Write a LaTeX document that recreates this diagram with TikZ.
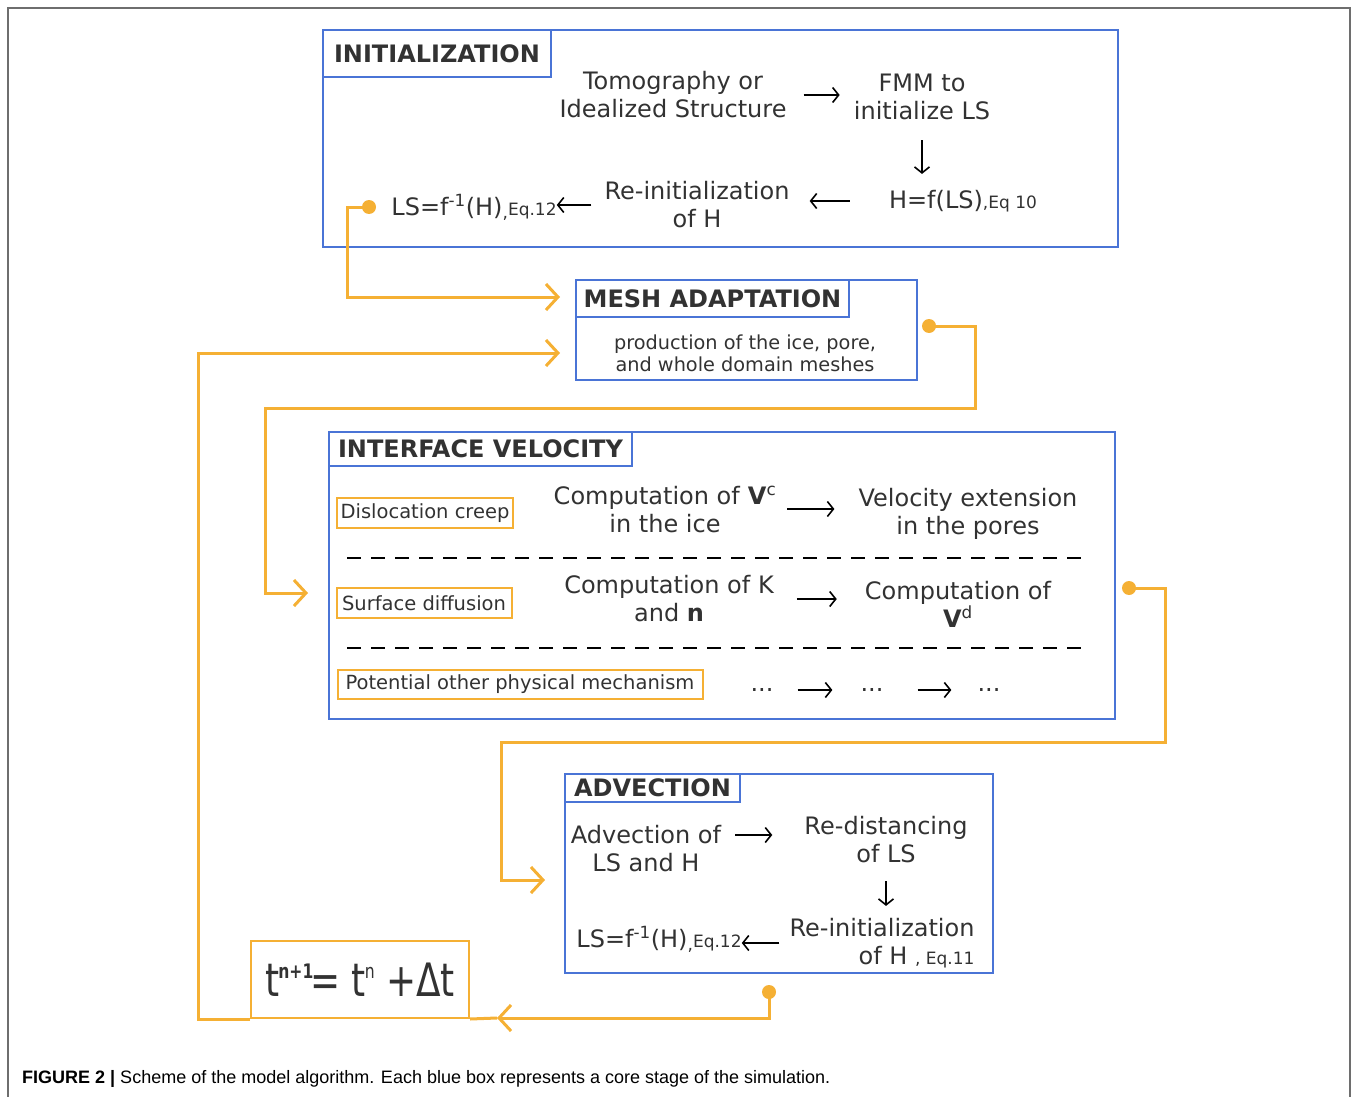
\documentclass[tikz,border=0pt]{standalone}
\usepackage{fontspec}
\setmainfont{DejaVu Sans}
\newfontfamily\capfont{Liberation Sans}
\usetikzlibrary{arrows.meta}

\definecolor{boxblue}{RGB}{74,116,214}
\definecolor{flowor}{RGB}{245,176,52}
\definecolor{ink}{RGB}{50,50,50}
\definecolor{framegray}{RGB}{110,110,110}
\newcommand{\bodysize}{\fontsize{24}{28}\selectfont}
\newcommand{\eqsize}{\fontsize{17}{20}\selectfont}
\newcommand{\headsize}{\fontsize{24}{28}\selectfont\bfseries}
\newcommand{\tagsize}{\fontsize{19.5}{22}\selectfont}
\newcommand{\tsup}[1]{\raisebox{18pt}{\fontsize{20}{20}\selectfont #1}}

\begin{document}
\begin{tikzpicture}[x=1pt,y=-1pt]
\tikzstyle{every node}+=[inner sep=0pt, text=ink]
\tikzstyle{stage}=[draw=boxblue, line width=2pt, anchor=north west]
\tikzstyle{stagehead}=[draw=boxblue, line width=2pt, font=\headsize, anchor=north west]
\tikzstyle{txt}=[font=\bodysize, align=center]
\tikzstyle{tag}=[draw=flowor, line width=2pt, font=\tagsize]
\tikzstyle{flow}=[draw=flowor, line width=3pt]
\tikzstyle{flowarrow}=[flow, -{Straight Barb[length=12pt,width=26pt]}]
\tikzstyle{link}=[line width=1.6pt, -{Straight Barb[length=6pt,width=15pt]}]
\tikzstyle{joint}=[circle, fill=flowor, minimum size=14pt]
\tikzstyle{rowline}=[line width=1.5pt, dash pattern=on 14pt off 10pt]
\useasboundingbox (0,0) rectangle (1358,1097);
\draw[framegray, line width=2pt] (8,1097) -- (8,8) -- (1350,8) -- (1350,1097);

% initialization
\node[stage, minimum width=795pt, minimum height=217pt] (init) at (322,29) {};
\node[stagehead, minimum width=228pt, minimum height=47pt] (inithead) at (322,29) {INITIALIZATION};
\node[txt] (tomo) at (673,95) {Tomography or\\Idealized Structure};
\node[txt] (fmm) at (922,97) {FMM to\\initialize LS};
\node[txt] (hfun) at (963,201) {H=f(LS){\eqsize,Eq 10}};
\node[txt] (reinit) at (697,205) {Re-initialization\\of H};
\node[txt] (lsinv) at (474,207) {LS=f\textsuperscript{-1}(H){\eqsize\raisebox{-3pt}{,}Eq.12}};
\draw[link, shorten <=17pt, shorten >=14pt] (tomo.east) -- (tomo.east -| fmm.west);
\draw[link, shorten <=20pt, shorten >=16pt] (fmm.south) -- (fmm.south |- hfun.north);
\draw[link, shorten <=39pt, shorten >=20pt] (hfun.west) -- (hfun.west -| reinit.east);
\draw[link, shorten <=13pt] (reinit.west) -- (reinit.west -| lsinv.east);

% mesh adaptation
\node[stage, minimum width=341pt, minimum height=100pt] (mesh) at (575,279) {};
\node[stagehead, minimum width=273pt, minimum height=37pt] (meshhead) at (575,279) {MESH ADAPTATION};
\node[font=\fontsize{19.3}{22}\selectfont, align=center] (meshtxt) at (745,353) {production of the ice, pore,\\and whole domain meshes};

% interface velocity
\node[stage, minimum width=786pt, minimum height=287pt] (iv) at (328,431) {};
\node[stagehead, minimum width=303pt, minimum height=34pt] (ivhead) at (328,431) {INTERFACE VELOCITY};
\node[tag, minimum width=176pt, minimum height=30pt] (creep) at (425,513) {Dislocation creep};
\node[txt] (vc) at (665,509) {Computation of \textbf{V}\textsuperscript{c}\\in the ice};
\node[txt] (vext) at (968,514) {Velocity extension\\in the pores};
\draw[link, shorten <=11pt, shorten >=24pt] (vc.east) -- (vc.east -| vext.west);
\draw[rowline] (347,558) -- (1086,558);
\node[tag, minimum width=175pt, minimum height=30pt] (diffu) at (424,603) {Surface diffusion};
\node[txt] (kn) at (669,599) {Computation of K\\and \textbf{n}};
\node[txt] (vd) at (958,604) {Computation of\\\textbf{V}\textsuperscript{d}};
\draw[link, shorten <=23pt, shorten >=28pt] (kn.east) -- (kn.east -| vd.west);
\draw[rowline] (347,648) -- (1086,648);
\node[tag, minimum width=365pt, minimum height=29pt] (other) at (520,684) {Potential other physical mechanism};
\node[txt] (dotsa) at (762,690) {...};
\node[txt] (dotsb) at (872,690) {...};
\node[txt] (dotsc) at (989,690) {...};
\draw[link, shorten <=24pt, shorten >=28pt] (dotsa) -- (dotsb);
\draw[link, shorten <=34pt, shorten >=26pt] (dotsb) -- (dotsc);

% advection
\node[stage, minimum width=428pt, minimum height=199pt] (adv) at (564,773) {};
\node[stagehead, minimum width=175pt, minimum height=28pt] (advhead) at (564,773) {ADVECTION};
\node[txt] (advls) at (646,849) {Advection of\\LS and H};
\node[txt] (redist) at (886,840) {Re-distancing\\of LS};
\node[txt, align=right] (reinit2) at (882,943) {Re-initialization\\of H {\eqsize, Eq.11}};
\node[txt] (lsinv2) at (659,939) {LS=f\textsuperscript{-1}(H){\eqsize\raisebox{-3pt}{,}Eq.12}};
\draw[link, shorten <=14pt, shorten >=32pt] ([yshift=14pt]advls.east) -- ([yshift=14pt]advls.east -| redist.west);
\draw[link, shorten <=18pt, shorten >=12pt] (redist.south) -- (redist.south |- reinit2.north);
\draw[link, shorten <=10pt] (reinit2.west) -- (reinit2.west -| lsinv2.east);

% time step
\node[tag, minimum width=218pt, minimum height=77pt, font=\fontsize{46}{50}\selectfont] (tstep) at (360,979.5) {\scalebox{0.78}[1]{t\kern-1pt\tsup{\bfseries n+1}\kern-4pt= t\kern-1pt\tsup{n} +Δt}};

% orange flow
\node[joint] (initdot) at (369,207) {};
\node[joint] (meshdot) at (929,326) {};
\node[joint] (ivdot) at (1129,588) {};
\node[joint] (advdot) at (769,992) {};
\coordinate (meshin1) at (560,297);
\coordinate (meshin2) at (560,353);
\coordinate (ivin) at (308,593);
\coordinate (advin) at (545,880);
\coordinate (tin) at (497,1018);
\draw[flowarrow] (initdot.center) -- ++(-22,0) |- (meshin1);
\draw[flowarrow] (tstep.south west) -- ++(-52,0) |- (meshin2);
\draw[flowarrow] (meshdot.center) -- ++(46,0) -- ++(0,82) -- ++(-710,0) |- (ivin);
\draw[flowarrow] (ivdot.center) -- ++(36,0) -- ++(0,154) -- ++(-664,0) |- (advin);
\draw[flowarrow] (advdot.center) |- (tin);
\draw[flow] (tin) -- (tstep.south east);

\node[anchor=west, font=\capfont\fontsize{18}{20}\selectfont, text=black] (caption) at (22,1079) {\textbf{FIGURE 2 |} Scheme of the model algorithm. Each blue box represents a core stage of the simulation.};
\end{tikzpicture}
\end{document}
